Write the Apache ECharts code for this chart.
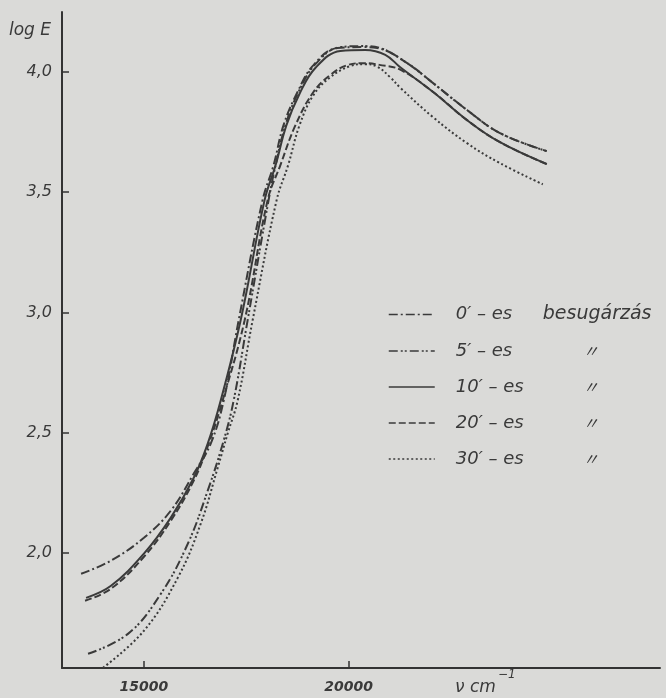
<!DOCTYPE html>
<html>
<head>
<meta charset="utf-8">
<title>log E</title>
<script src="https://cdn.jsdelivr.net/npm/echarts@6/dist/echarts.min.js"></script>
<style>
  body { margin: 0; background: #dadad8; }
  #main { width: 666px; height: 698px; }
</style>
</head>
<body>
<div id="main"></div>
<script>
// wave number (cm-1) and log E, one pair of arrays per curve
var nu0   = [13466, 14196, 15000, 15657, 16217, 16631, 16948, 17313, 17897, 18165, 18409, 18750, 19139, 19724, 20357, 20698, 21428, 22061, 22889, 23693, 24837];
var logE0 = [1.912, 1.967, 2.062, 2.175, 2.329, 2.454, 2.633, 2.967, 3.467, 3.612, 3.779, 3.917, 4.029, 4.100, 4.104, 4.100, 4.037, 3.954, 3.842, 3.746, 3.671];

var nu5   = [13636, 14610, 15414, 16071, 16558, 16948, 17191, 17532, 18044, 18214, 18458, 18774, 19188, 19797, 20405, 20771, 21428, 22061, 22889, 23693, 24837];
var logE5 = [1.579, 1.662, 1.829, 2.037, 2.258, 2.467, 2.633, 2.967, 3.467, 3.612, 3.780, 3.917, 4.033, 4.104, 4.108, 4.100, 4.037, 3.954, 3.842, 3.746, 3.671];

var nu10   = [13588, 14196, 15000, 15657, 16217, 16558, 16875, 17362, 17946, 18214, 18480, 18800, 19190, 19797, 20405, 20893, 21258, 22061, 22889, 23693, 24837];
var logE10 = [1.812, 1.862, 1.996, 2.146, 2.312, 2.454, 2.633, 2.967, 3.467, 3.612, 3.779, 3.910, 4.018, 4.088, 4.092, 4.072, 4.020, 3.917, 3.800, 3.708, 3.617];

var nu20   = [13563, 14196, 15000, 15657, 16217, 16558, 16900, 17459, 18020, 18330, 18700, 19139, 19553, 19967, 20357, 20750, 21258, 22061, 22889, 23693, 24837];
var logE20 = [1.800, 1.850, 1.983, 2.133, 2.300, 2.442, 2.621, 2.967, 3.467, 3.612, 3.779, 3.917, 3.988, 4.029, 4.037, 4.030, 4.010, 3.917, 3.800, 3.708, 3.617];

var nu30   = [14002, 15000, 15828, 16388, 16802, 17045, 17289, 17654, 18240, 18520, 18800, 19139, 19553, 20040, 20405, 20698, 21014, 21258, 22061, 22889, 23693, 24739];
var logE30 = [1.521, 1.675, 1.896, 2.121, 2.354, 2.496, 2.633, 2.967, 3.467, 3.612, 3.779, 3.904, 3.979, 4.025, 4.033, 4.022, 3.978, 3.935, 3.812, 3.704, 3.621, 3.533];

var xTicks = [15000, 20000];
var yTicks = [2.0, 2.5, 3.0, 3.5, 4.0];

var names  = ["0′ – es", "5′ – es", "10′ – es", "20′ – es", "30′ – es"];
var second = ["besugárzás", "〃", "〃", "〃", "〃"];

var ink = '#3a3a3a';
var font = 'DejaVu Sans';

function pairs(xs, ys) {
    var out = [];
    for (var i = 0; i < xs.length; i++) out.push([xs[i], ys[i]]);
    return out;
}

var curves = [
    { data: pairs(nu0, logE0), type: [9, 3, 2, 3] },
    { data: pairs(nu5, logE5), type: [9, 3, 2, 2, 2, 3] },
    { data: pairs(nu10, logE10), type: 'solid' },
    { data: pairs(nu20, logE20), type: [7, 3] },
    { data: pairs(nu30, logE30), type: [2, 2.5] }
];

var series = curves.map(function (c, i) {
    return {
        name: names[i],
        type: 'line',
        data: c.data,
        smooth: 0.4,
        showSymbol: false,
        symbol: 'none',
        lineStyle: { color: ink, width: 2, type: c.type },
        itemStyle: { color: ink },
        z: 5 - i
    };
});

var myChart = echarts.init(document.getElementById('main'));
myChart.setOption({
    backgroundColor: '#dadad8',
    animation: false,
    grid: { left: 62, right: 6, top: 12, bottom: 30 },
    xAxis: {
        type: 'value',
        min: 13000,
        max: 27600,
        splitLine: { show: false },
        axisLine: { lineStyle: { color: '#333', width: 2 } },
        axisTick: { inside: true, length: 7, customValues: xTicks, lineStyle: { color: '#333', width: 1.5 } },
        axisLabel: {
            customValues: xTicks,
            color: '#3a3a3a',
            fontFamily: font,
            fontStyle: 'italic',
            fontWeight: 'bold',
            fontSize: 14,
            margin: 12,
            formatter: function (v) { return String(v); }
        }
    },
    yAxis: {
        type: 'value',
        min: 1.52,
        max: 4.25,
        splitLine: { show: false },
        axisLine: { lineStyle: { color: '#333', width: 2 } },
        axisTick: { inside: true, length: 7, customValues: yTicks, lineStyle: { color: '#333', width: 1.5 } },
        axisLabel: {
            customValues: yTicks,
            color: '#3a3a3a',
            fontFamily: font,
            fontStyle: 'italic',
            fontSize: 16,
            margin: 10,
            formatter: function (v) { return v.toFixed(1).replace('.', ','); }
        }
    },
    legend: {
        orient: 'vertical',
        left: 383,
        top: 300,
        itemWidth: 46,
        itemHeight: 14,
        itemGap: 18,
        data: names,
        itemStyle: { opacity: 0 },
        lineStyle: { width: 1.5 },
        textStyle: {
            color: '#3a3a3a',
            fontFamily: font,
            fontStyle: 'italic',
            fontSize: 18,
            rich: {
                a: { width: 87, fontFamily: font, fontStyle: 'italic', fontSize: 18, color: '#3a3a3a', padding: [0, 0, 0, 16] },
                b: { fontFamily: font, fontStyle: 'italic', fontSize: 19, color: '#3a3a3a' },
                c: { fontFamily: 'Noto Sans CJK JP', fontSize: 16, color: '#3a3a3a', padding: [0, 0, 0, 40] }
            }
        },
        formatter: function (n) {
            var i = names.indexOf(n);
            return '{a|' + n + '}' + (i === 0 ? '{b|' : '{c|') + second[i] + '}';
        }
    },
    graphic: [
        { type: 'text', left: 9, top: 22, style: { text: 'log E', fill: '#3a3a3a', font: 'italic 17px "DejaVu Sans"' } },
        { type: 'text', left: 455, top: 679, style: { text: 'ν cm', fill: '#3a3a3a', font: 'italic 17px "DejaVu Sans"' } },
        { type: 'text', left: 498, top: 669, style: { text: '−1', fill: '#3a3a3a', font: 'italic 12px "DejaVu Sans"' } }
    ],
    series: series
});
</script>
</body>
</html>
